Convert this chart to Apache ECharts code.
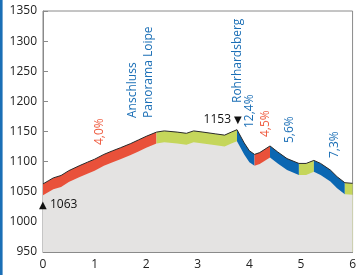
<!DOCTYPE html>
<html><head><meta charset="utf-8">
<script src="https://cdn.jsdelivr.net/npm/echarts@6/dist/echarts.min.js"></script>
<style>html,body{margin:0;padding:0;background:#fff}#c{width:359px;height:275px}</style>
</head><body><div id="c"></div>
<script>
// distance (km) and elevation (m) of the profile
const distKm = [0, 0.1, 0.2, 0.35, 0.5, 0.7, 0.86, 1.0, 1.18, 1.35, 1.5, 1.7, 1.85, 2.0, 2.2,
  2.35, 2.6, 2.78, 2.92, 3.1, 3.35, 3.52, 3.65, 3.76,
  3.9, 4.0, 4.1, 4.2, 4.4, 4.55, 4.73, 4.96, 5.1, 5.25, 5.38, 5.57, 5.7, 5.85, 6.0];
const elevM = [1063, 1068, 1073, 1077, 1085, 1093, 1099, 1104, 1112, 1118, 1123, 1130, 1136, 1142, 1149,
  1151, 1149, 1147, 1151, 1149, 1146, 1144, 1149, 1153,
  1131, 1118, 1112, 1115, 1126, 1116, 1105, 1097, 1097, 1102, 1097, 1086, 1075, 1065, 1064];
// gradient segments
const segBreaks = [0, 2.2, 3.76, 4.1, 4.4, 4.96, 5.25, 5.85, 6];
const segKind = ['up', 'flat', 'down', 'up', 'down', 'flat', 'down', 'flat'];
// annotations
const gradeLabels = ['4,0%', '12,4%', '4,5%', '5,6%', '7,3%'];
const placeLabels = ['Anschluss', 'Panorama Loipe', 'Rohrhardsberg'];
const minElevLabel = '1063';
const maxElevLabel = '1153';

const kindColor = {up: '#e9513a', flat: '#c5d65b', down: '#0b67b2'};
const bandT = 19;
const profile = distKm.map((d, i) => [d, elevM[i]]);

const series = [];
for (let s = 0; s < segKind.length; s++) {
  const a = segBreaks[s], b = segBreaks[s + 1];
  series.push({
    type: 'line', symbol: 'none', silent: true,
    data: profile.filter(p => p[0] >= a - 1e-9 && p[0] <= b + 1e-9),
    lineStyle: {width: 0, opacity: 0},
    areaStyle: {color: kindColor[segKind[s]], opacity: 1}
  });
}
series.push({
  type: 'line', symbol: 'none', silent: true,
  data: profile.map(p => [p[0], p[1] - bandT]),
  lineStyle: {width: 0, opacity: 0},
  areaStyle: {color: '#e4e3e2', opacity: 1}
});
series.push({
  type: 'line', symbol: 'none', silent: true,
  data: profile,
  lineStyle: {color: '#2a2a2a', width: 1}
});

const F = '"Open Sans", "Noto Sans", sans-serif';
const blue = '#1b6fb6', red = '#ef5a3e';
function vtext(text, x, y, color) {
  return {type: 'text', x: x, y: y, z: 100, rotation: Math.PI / 2,
    style: {text: text, fill: color, font: '12px ' + F, align: 'left', verticalAlign: 'middle'}};
}
function htext(text, x, y, align, font) {
  return {type: 'text', x: x, y: y, z: 100,
    style: {text: text, fill: '#111', font: font, align: align, verticalAlign: 'middle'}};
}

const chart = echarts.init(document.getElementById('c'), null, {renderer: 'canvas'});
chart.setOption({
  animation: false,
  backgroundColor: '#fff',
  grid: {left: 43, right: 3, top: 11, bottom: 23, show: true, borderColor: '#8a8a8a', borderWidth: 1},
  xAxis: {type: 'value', min: 0, max: 6, interval: 1,
    axisLine: {lineStyle: {color: '#8a8a8a'}},
    axisTick: {inside: true, length: 5, lineStyle: {color: '#8a8a8a'}},
    minorTick: {show: true, splitNumber: 4, length: 3, lineStyle: {color: '#8a8a8a'}},
    splitLine: {show: false},
    axisLabel: {color: '#222', fontSize: 12, fontFamily: F, margin: 7}},
  yAxis: {type: 'value', min: 950, max: 1350, interval: 50,
    axisLine: {show: true, lineStyle: {color: '#8a8a8a'}},
    axisTick: {show: true, inside: true, length: 5, lineStyle: {color: '#8a8a8a'}},
    splitLine: {show: false},
    axisLabel: {color: '#222', fontSize: 12, fontFamily: F, margin: 6, formatter: v => String(v)}},
  series: series,
  graphic: [
    {type: 'rect', z: 100, shape: {x: 0, y: 0, width: 2.6, height: 275}, style: {fill: '#1b6fb6'}},
    vtext(placeLabels[0], 133, 118, blue),
    vtext(placeLabels[1], 149, 118, blue),
    vtext(placeLabels[2], 238, 103, blue),
    vtext(gradeLabels[0], 100, 145, red),
    vtext(gradeLabels[1], 250, 128, blue),
    vtext(gradeLabels[2], 266, 137, red),
    vtext(gradeLabels[3], 290, 143, blue),
    vtext(gradeLabels[4], 335, 158, blue),
    htext('▲', 39, 205, 'left', '10px "DejaVu Sans"'),
    htext(minElevLabel, 50, 205, 'left', '12px ' + F),
    htext(maxElevLabel, 231, 120, 'right', '12px ' + F),
    htext('▼', 234, 120, 'left', '10px "DejaVu Sans"')
  ]
});
</script></body></html>
